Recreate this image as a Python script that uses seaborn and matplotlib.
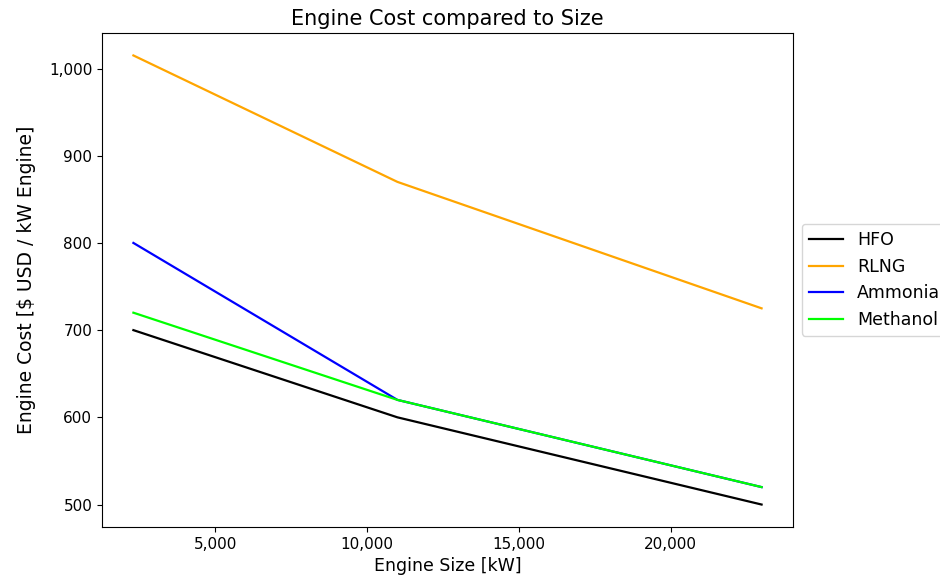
import matplotlib
matplotlib.use("Agg")
import matplotlib.pyplot as plt
import matplotlib.ticker as mticker
import seaborn as sns
import pandas as pd

engine_size = [2300, 11000, 23000]
hfo = [700, 600, 500]
rlng = [1015, 870, 725]
ammonia = [800, 620, 520]
methanol = [720, 620, 520]
fuels = ["HFO", "RLNG", "Ammonia", "Methanol"]
colors = ["black", "orange", "blue", "lime"]

rows = []
for name, vals in zip(fuels, [hfo, rlng, ammonia, methanol]):
    for x, y in zip(engine_size, vals):
        rows.append({"size": x, "cost": y, "fuel": name})
df = pd.DataFrame(rows)

plt.rcParams["font.family"] = ["DejaVu Sans"]
fig, ax = plt.subplots(figsize=(9.4, 5.86), dpi=100)
sns.lineplot(data=df, x="size", y="cost", hue="fuel", hue_order=fuels,
             palette=dict(zip(fuels, colors)), ax=ax, linewidth=1.6)
ax.xaxis.set_major_formatter(mticker.StrMethodFormatter("{x:,.0f}"))
ax.yaxis.set_major_formatter(mticker.StrMethodFormatter("{x:,.0f}"))
ax.set_xlabel("Engine Size [kW]", fontsize=12.5)
ax.set_ylabel("Engine Cost [$ USD / kW Engine]", fontsize=13.5, labelpad=9)
ax.set_title("Engine Cost compared to Size", fontsize=15)
ax.tick_params(labelsize=11)
ax.legend(loc="center left", bbox_to_anchor=(1.0, 0.5), fontsize=12.5)
fig.subplots_adjust(left=0.1085, right=0.8436, top=0.9437, bottom=0.1007)
fig.savefig("out.png", dpi=100)
